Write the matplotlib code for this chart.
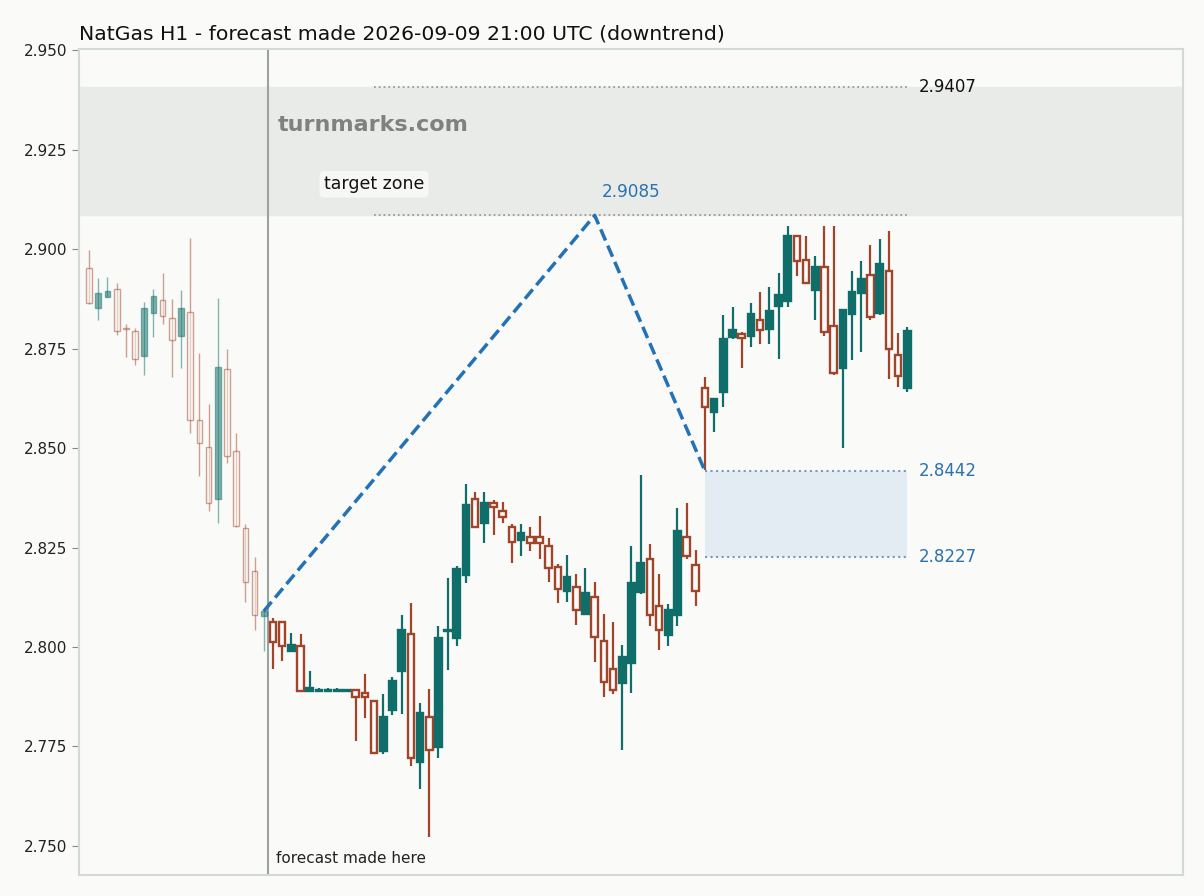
import numpy as np
import matplotlib.pyplot as plt

# OHLC values, hourly candles
opens = [2.8952, 2.8853, 2.8880, 2.8901, 2.8802, 2.8793, 2.8732, 2.8840, 2.8871, 2.8828,
         2.8782, 2.8843, 2.8570, 2.8502, 2.8371, 2.8698, 2.8492, 2.8298, 2.8190, 2.8079,
         2.8062, 2.8064, 2.7991, 2.8003, 2.7890, 2.7889, 2.7889, 2.7889, 2.7889, 2.7891,
         2.7884, 2.7865, 2.7739, 2.7842, 2.7940, 2.8032, 2.7712, 2.7823, 2.7749, 2.8039,
         2.8023, 2.8182, 2.8371, 2.8312, 2.8362, 2.8343, 2.8301, 2.8270, 2.8276, 2.8276,
         2.8253, 2.8200, 2.8141, 2.8152, 2.8084, 2.8125, 2.8014, 2.7944, 2.7910, 2.7961,
         2.8139, 2.8220, 2.8102, 2.8031, 2.8081, 2.8276, 2.8205, 2.8652, 2.8591, 2.8641,
         2.8780, 2.8786, 2.8782, 2.8822, 2.8800, 2.8858, 2.8870, 2.9033, 2.8972, 2.8898,
         2.8954, 2.8806, 2.8702, 2.8837, 2.8890, 2.8934, 2.8840, 2.8946, 2.8733, 2.8651]
highs = [2.8999, 2.8928, 2.8930, 2.8914, 2.8811, 2.8802, 2.8868, 2.8900, 2.8940, 2.8874,
         2.8898, 2.9029, 2.8738, 2.8612, 2.8878, 2.8748, 2.8539, 2.8308, 2.8227, 2.8092,
         2.8072, 2.8066, 2.8034, 2.8033, 2.7940, 2.7898, 2.7896, 2.7898, 2.7890, 2.7891,
         2.7932, 2.7866, 2.7881, 2.7924, 2.8080, 2.8110, 2.7859, 2.7894, 2.8053, 2.8173,
         2.8204, 2.8410, 2.8389, 2.8389, 2.8369, 2.8364, 2.8309, 2.8309, 2.8301, 2.8329,
         2.8273, 2.8209, 2.8231, 2.8183, 2.8198, 2.8163, 2.8083, 2.8063, 2.8005, 2.8254,
         2.8432, 2.8259, 2.8183, 2.8108, 2.8349, 2.8362, 2.8244, 2.8678, 2.8624, 2.8834,
         2.8854, 2.8791, 2.8864, 2.8892, 2.8905, 2.8940, 2.9058, 2.9035, 2.9033, 2.8982,
         2.9058, 2.9058, 2.8848, 2.8945, 2.8970, 2.9010, 2.9025, 2.9045, 2.8789, 2.8804]
lows = [2.8862, 2.8822, 2.8879, 2.8784, 2.8729, 2.8710, 2.8683, 2.8780, 2.8811, 2.8678,
        2.8701, 2.8539, 2.8429, 2.8342, 2.8311, 2.8462, 2.8302, 2.8113, 2.8043, 2.7990,
        2.7946, 2.7966, 2.7990, 2.7888, 2.7889, 2.7889, 2.7889, 2.7889, 2.7889, 2.7765,
        2.7822, 2.7732, 2.7732, 2.7830, 2.7832, 2.7702, 2.7644, 2.7523, 2.7722, 2.7942,
        2.8003, 2.8162, 2.8300, 2.8262, 2.8282, 2.8312, 2.8212, 2.8229, 2.8242, 2.8222,
        2.8164, 2.8111, 2.8114, 2.8056, 2.8083, 2.7963, 2.7875, 2.7883, 2.7742, 2.7885,
        2.8134, 2.8053, 2.7993, 2.8003, 2.8053, 2.8222, 2.8104, 2.8445, 2.8540, 2.8604,
        2.8773, 2.8702, 2.8755, 2.8762, 2.8762, 2.8724, 2.8855, 2.8933, 2.8913, 2.8822,
        2.8782, 2.8684, 2.8500, 2.8722, 2.8742, 2.8823, 2.8835, 2.8674, 2.8654, 2.8641]
closes = [2.8864, 2.8891, 2.8894, 2.8793, 2.8800, 2.8723, 2.8853, 2.8881, 2.8833, 2.8771,
          2.8851, 2.8570, 2.8514, 2.8361, 2.8704, 2.8479, 2.8303, 2.8163, 2.8080, 2.8090,
          2.8012, 2.8002, 2.8005, 2.7889, 2.7896, 2.7890, 2.7890, 2.7890, 2.7890, 2.7874,
          2.7874, 2.7733, 2.7823, 2.7915, 2.8044, 2.7720, 2.7833, 2.7740, 2.8022, 2.8041,
          2.8196, 2.8357, 2.8301, 2.8362, 2.8352, 2.8328, 2.8263, 2.8286, 2.8261, 2.8261,
          2.8199, 2.8147, 2.8176, 2.8092, 2.8136, 2.8024, 2.7911, 2.7891, 2.7975, 2.8161,
          2.8211, 2.8080, 2.8044, 2.8093, 2.8291, 2.8230, 2.8142, 2.8602, 2.8623, 2.8774,
          2.8796, 2.8777, 2.8837, 2.8798, 2.8844, 2.8884, 2.9033, 2.8969, 2.8914, 2.8955,
          2.8791, 2.8689, 2.8847, 2.8892, 2.8925, 2.8830, 2.8962, 2.8748, 2.8680, 2.8794]

n_history = 20  # candles before the forecast was made

# forecast path (bar index, price)
path_idx = [19, 55, 67]
path_val = [2.8090, 2.9085, 2.8442]

target_low = 2.9085
target_high = 2.9407
zone_low = 2.8227
zone_high = 2.8442

UP = '#0f6e69'
DOWN = '#a0452a'
BG = '#fafaf8'

fig, ax = plt.subplots(figsize=(12.04, 8.96), dpi=100)
fig.patch.set_facecolor(BG)
ax.set_facecolor(BG)
ax.set_position([79 / 1204, 1 - 875 / 896, 1104 / 1204, 826 / 896])

o = np.array(opens)
h = np.array(highs)
l = np.array(lows)
c = np.array(closes)
x = np.arange(len(o))

for i in range(len(o)):
    up = c[i] >= o[i]
    col = UP if up else DOWN
    past = i < n_history
    alpha = 0.5 if past else 1.0
    wlw = 1.0 if past else 1.6
    bw = 0.62 if past else 0.72
    blw = 1.0 if past else 1.7
    ax.vlines(x[i], l[i], h[i], color=col, lw=wlw, alpha=alpha, zorder=3)
    bottom = min(o[i], c[i])
    height = max(abs(c[i] - o[i]), 0.0003)
    if up:
        ax.bar(x[i], height, bw, bottom=bottom, color=col, edgecolor=col,
               lw=blw, alpha=alpha, zorder=4)
    else:
        ax.bar(x[i], height, bw, bottom=bottom, facecolor=BG, edgecolor=col,
               lw=blw, alpha=alpha, zorder=4)

# target zone band
ax.axhspan(target_low, target_high, color='#e9ebe8', zorder=1)
ax.hlines([target_high, target_low], 31, len(o) - 1, colors='#9a9a9a',
          linestyles=':', lw=1.3, zorder=2)
ax.text(31, 2.9163, 'target zone', ha='center', va='center', fontsize=12.5,
        color='#111111', zorder=6,
        bbox=dict(boxstyle='round,pad=0.25', fc='#f7f7f5', ec='none'))
ax.text(len(o) + 0.3, target_high, f'{target_high:.4f}', va='center',
        fontsize=12, color='#111111')

# reversal zone box
ax.fill_between([path_idx[-1], len(o) - 1], zone_low, zone_high,
                color='#e3ecf3', zorder=1, lw=0)
ax.hlines([zone_high, zone_low], path_idx[-1], len(o) - 1, colors='#6e9cc2',
          linestyles=':', lw=1.5, zorder=2)
ax.text(len(o) + 0.3, zone_high, f'{zone_high:.4f}', va='center',
        fontsize=12, color='#2a72b0')
ax.text(len(o) + 0.3, zone_low, f'{zone_low:.4f}', va='center',
        fontsize=12, color='#2a72b0')

# forecast path
ax.plot(path_idx, path_val, color='#2372b5', lw=2.5, ls=(0, (3.5, 1.6)), zorder=5)
ax.text(path_idx[1] + 0.8, path_val[1] + 0.0035, f'{path_val[1]:.4f}',
        fontsize=12.2, color='#2a72b0', ha='left', va='bottom')

# forecast made here
ax.axvline(n_history - 0.5, color='#9ea29f', lw=1.5, zorder=2)
ax.text(n_history + 0.35, 0.02, 'forecast made here', fontsize=11,
        color='#222222', transform=ax.get_xaxis_transform(), va='center')

ax.text(0.18, 0.908, 'turnmarks.com', transform=ax.transAxes, fontsize=16,
        fontweight='bold', color='#808080', va='center', zorder=6)

ax.set_xlim(-1.1, 119)
ax.set_ylim(2.7427, 2.9503)
ax.set_yticks(np.arange(2.75, 2.9501, 0.025))
ax.set_yticklabels([f'{v:.3f}' for v in np.arange(2.75, 2.9501, 0.025)])
ax.set_xticks([])
ax.tick_params(axis='y', labelsize=11, colors='#888888', labelcolor='#222222', length=5)
for s in ax.spines.values():
    s.set_color('#d3d9d6')
    s.set_linewidth(1.5)

ax.set_title('NatGas H1 - forecast made 2026-09-09 21:00 UTC (downtrend)',
             loc='left', fontsize=14.7, color='#111111', pad=7)

fig.savefig('out.png', dpi=100, facecolor=BG)
